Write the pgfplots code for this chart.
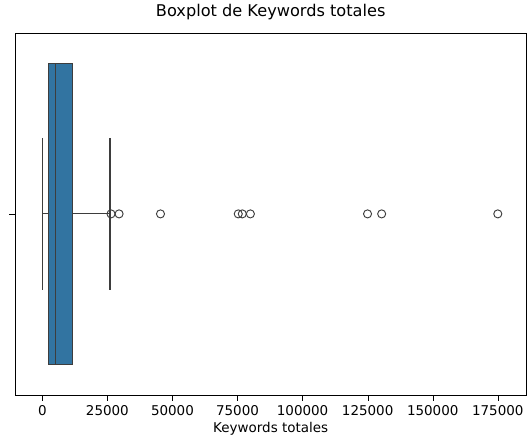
\documentclass[border=0pt]{standalone}
\usepackage{fontspec}
\setmainfont{DejaVu Sans}
\usepackage{pgfplots}
\pgfplotsset{compat=1.18}
\usepgfplotslibrary{statistics}
\definecolor{boxblue}{HTML}{3274A1}
\definecolor{edge}{HTML}{3D3D3D}
\begin{document}
\begin{tikzpicture}
\begin{axis}[
  scale only axis, width=379.5pt, height=268.5pt,
  xmin=-10500, xmax=186000, ymin=-0.5, ymax=0.5,
  xtick={0,25000,50000,75000,100000,125000,150000,175000},
  scaled x ticks=false,
  xticklabel style={/pgf/number format/.cd,fixed,1000 sep={}},
  /pgf/number format/assume math mode=true,
  ytick={0}, yticklabels={},
  tick align=outside, tick style={black},
  xtick pos=bottom, ytick pos=left,
  xlabel={Keywords totales},
  title={Boxplot de Keywords totales},
  title style={font=\fontsize{12}{14}\selectfont},
  tick label style={font=\fontsize{10}{12}\selectfont},
  label style={font=\fontsize{10}{12}\selectfont},
  xlabel style={yshift=2pt},
]
\addplot+[boxplot prepared={draw position=0, box extend=0.83,
   lower whisker=0, lower quartile=2330, median=5045,
   upper quartile=11640, upper whisker=26000, whisker extend=0.42},
   fill=boxblue, draw=edge, line width=0.8pt, solid, mark=none]
   coordinates {};
\addplot[only marks, mark=o, mark size=3pt, draw=edge, line width=0.7pt]
  coordinates {(26390,0)(29490,0)(45400,0)(75280,0)(76830,0)(79940,0)(124950,0)(130380,0)(175000,0)};
\end{axis}
\end{tikzpicture}
\end{document}
